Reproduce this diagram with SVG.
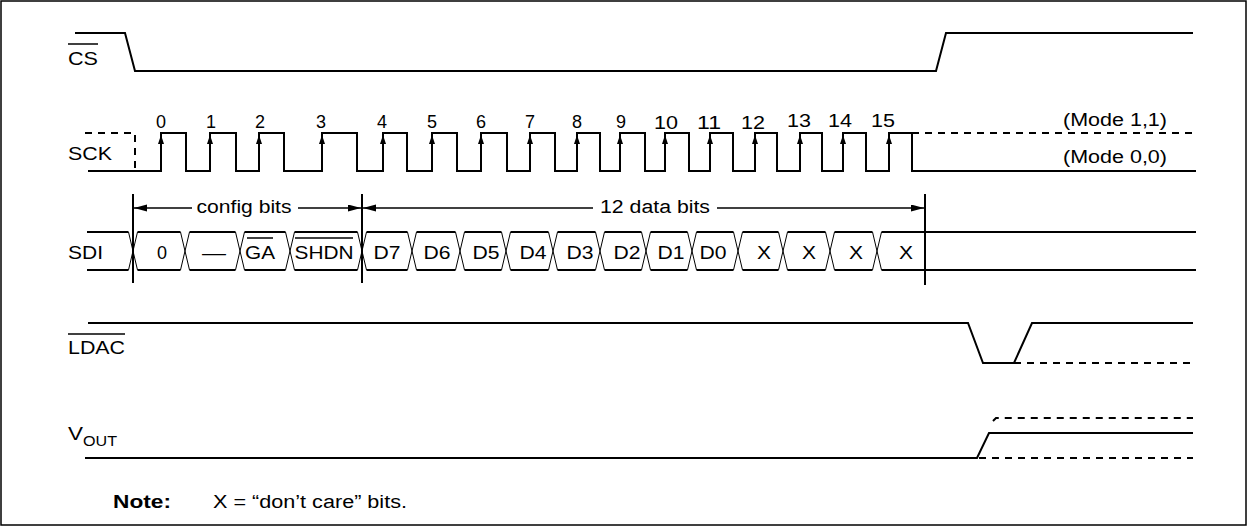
<svg xmlns="http://www.w3.org/2000/svg" width="1248" height="527" viewBox="0 0 1248 527">
<style>
.sig{fill:none;stroke:#000;stroke-width:2}
.dash{fill:none;stroke:#000;stroke-width:2;stroke-dasharray:7 6}
.thin{fill:none;stroke:#000;stroke-width:1}
.dim{fill:none;stroke:#000;stroke-width:1.5}
.ov{stroke:#000;stroke-width:1.5}
.lbl{font-family:"Liberation Sans",Arial,Helvetica,sans-serif;font-size:18px;fill:#000}
.c{text-anchor:middle}
.b{font-weight:bold}
</style>
<defs>
<marker id="ah" markerUnits="userSpaceOnUse" markerWidth="14" markerHeight="8" refX="13" refY="3.5" orient="auto">
<path d="M0,0 L13,3.5 L0,7 Z" fill="#000"/>
</marker>
<path id="ca" d="M0,0 L-3,9 L3,9 Z" fill="#000"/>
</defs>
<rect x="1" y="1" width="1245" height="524" fill="#fff" stroke="#000" stroke-width="1.5"/>

<g id="cs">
<path class="sig" d="M75,33 H125 L135,71 H936 L946,33 H1193"/>
<text class="lbl" x="68" y="65" textLength="30" lengthAdjust="spacingAndGlyphs">CS</text>
<line class="ov" x1="68" y1="44" x2="98" y2="44"/>
</g>

<g id="sck">
<path class="dash" d="M85,133 H135 V171"/>
<path class="sig" d="M88,171 H161 V133 H186 V171 H210 V133 H236 V171 H259 V133 H284 V171 H322 V133 H357 V171 H383 V133 H407 V171 H432 V133 H457 V171 H481 V133 H507 V171 H530 V133 H555 V171 H577 V133 H600 V171 H620 V133 H645 V171 H665 V133 H689 V171 H710 V133 H733 V171 H755 V133 H777 V171 H800 V133 H822 V171 H843 V133 H866 V171 H889 V133 H912 V171 H1196"/>
<path class="dash" d="M912,133 H1196"/>
<use href="#ca" x="161" y="135"/><use href="#ca" x="210" y="135"/><use href="#ca" x="259" y="135"/><use href="#ca" x="322" y="135"/>
<use href="#ca" x="383" y="135"/><use href="#ca" x="432" y="135"/><use href="#ca" x="481" y="135"/><use href="#ca" x="530" y="135"/>
<use href="#ca" x="577" y="135"/><use href="#ca" x="620" y="135"/><use href="#ca" x="665" y="135"/><use href="#ca" x="710" y="135"/>
<use href="#ca" x="755" y="135"/><use href="#ca" x="800" y="135"/><use href="#ca" x="843" y="135"/><use href="#ca" x="889" y="135"/>
<text class="lbl" x="68" y="160" textLength="44" lengthAdjust="spacingAndGlyphs">SCK</text>
<g class="lbl c">
<text x="161" y="128">0</text><text x="211" y="128">1</text><text x="260" y="128">2</text><text x="321" y="128">3</text>
<text x="382" y="128">4</text><text x="432" y="128">5</text><text x="481" y="128">6</text><text x="530" y="128">7</text>
<text x="577" y="128">8</text><text x="621" y="128">9</text>
<text x="666" y="128.5" textLength="24" lengthAdjust="spacingAndGlyphs">10</text>
<text x="709" y="128.5" textLength="24" lengthAdjust="spacingAndGlyphs">11</text>
<text x="753" y="129" textLength="24" lengthAdjust="spacingAndGlyphs">12</text>
<text x="799" y="126.5" textLength="24" lengthAdjust="spacingAndGlyphs">13</text>
<text x="840" y="126.5" textLength="24" lengthAdjust="spacingAndGlyphs">14</text>
<text x="883" y="126.5" textLength="24" lengthAdjust="spacingAndGlyphs">15</text>
</g>
<text class="lbl" x="1063" y="126" textLength="104" lengthAdjust="spacingAndGlyphs">(Mode 1,1)</text>
<text class="lbl" x="1063" y="163" textLength="104" lengthAdjust="spacingAndGlyphs">(Mode 0,0)</text>
</g>

<g id="sdi">
<path class="sig" d="M87,232H128.5M137.5,232H180.5M189.5,232H235.5M244.5,232H285.5M294.5,232H357.5M366.5,232H407.5M416.5,232H455.5M464.5,232H501.5M510.5,232H548.5M557.5,232H595.5M604.5,232H641.5M650.5,232H687.5M696.5,232H733.5M742.5,232H778.5M787.5,232H825.5M834.5,232H872.5M881.5,232H1196"/>
<path class="sig" d="M87,270H128.5M137.5,270H180.5M189.5,270H235.5M244.5,270H285.5M294.5,270H357.5M366.5,270H407.5M416.5,270H455.5M464.5,270H501.5M510.5,270H548.5M557.5,270H595.5M604.5,270H641.5M650.5,270H687.5M696.5,270H733.5M742.5,270H778.5M787.5,270H825.5M834.5,270H872.5M881.5,270H1196"/>
<path class="thin" d="M128.5,232L137.5,270M128.5,270L137.5,232M180.5,232L189.5,270M180.5,270L189.5,232M235.5,232L244.5,270M235.5,270L244.5,232M285.5,232L294.5,270M285.5,270L294.5,232M357.5,232L366.5,270M357.5,270L366.5,232M407.5,232L416.5,270M407.5,270L416.5,232M455.5,232L464.5,270M455.5,270L464.5,232M501.5,232L510.5,270M501.5,270L510.5,232M548.5,232L557.5,270M548.5,270L557.5,232M595.5,232L604.5,270M595.5,270L604.5,232M641.5,232L650.5,270M641.5,270L650.5,232M687.5,232L696.5,270M687.5,270L696.5,232M733.5,232L742.5,270M733.5,270L742.5,232M778.5,232L787.5,270M778.5,270L787.5,232M825.5,232L834.5,270M825.5,270L834.5,232M872.5,232L881.5,270M872.5,270L881.5,232"/>
<text class="lbl" x="68" y="259" textLength="35" lengthAdjust="spacingAndGlyphs">SDI</text>
<g class="lbl c">
<text x="162" y="259" textLength="12">0</text>
<text x="214" y="259" textLength="24" lengthAdjust="spacingAndGlyphs">—</text>
<text x="260" y="259" textLength="30" lengthAdjust="spacingAndGlyphs">GA</text>
<text x="324" y="259" textLength="59" lengthAdjust="spacingAndGlyphs">SHDN</text>
<text x="387" y="259" textLength="27" lengthAdjust="spacingAndGlyphs">D7</text>
<text x="437" y="259" textLength="27" lengthAdjust="spacingAndGlyphs">D6</text>
<text x="486" y="259" textLength="27" lengthAdjust="spacingAndGlyphs">D5</text>
<text x="533" y="259" textLength="27" lengthAdjust="spacingAndGlyphs">D4</text>
<text x="580" y="259" textLength="27" lengthAdjust="spacingAndGlyphs">D3</text>
<text x="627" y="259" textLength="27" lengthAdjust="spacingAndGlyphs">D2</text>
<text x="671" y="259" textLength="27" lengthAdjust="spacingAndGlyphs">D1</text>
<text x="713" y="259" textLength="27" lengthAdjust="spacingAndGlyphs">D0</text>
<text x="764" y="259" textLength="14" lengthAdjust="spacingAndGlyphs">X</text>
<text x="809" y="259" textLength="14" lengthAdjust="spacingAndGlyphs">X</text>
<text x="856" y="259" textLength="14" lengthAdjust="spacingAndGlyphs">X</text>
<text x="906" y="259" textLength="14" lengthAdjust="spacingAndGlyphs">X</text>
</g>
<line class="ov" x1="247" y1="238" x2="273" y2="238"/>
<line class="ov" x1="295" y1="238" x2="353" y2="238"/>
</g>

<g id="ldac">
<path class="sig" d="M88,323 H968 L983,363 H1014 L1032,323 H1193"/>
<path class="dash" d="M1014,363 H1196"/>
<text class="lbl" x="68" y="354" textLength="57" lengthAdjust="spacingAndGlyphs">LDAC</text>
<line class="ov" x1="68" y1="334" x2="125" y2="334"/>
</g>

<g id="vout">
<path class="sig" d="M85,458 H977 L989,433 H1193"/>
<path class="dash" d="M993,421 L996,418 H1193"/>
<path class="dash" d="M979,458 H1193"/>
<text class="lbl" x="68" y="440" textLength="15" lengthAdjust="spacingAndGlyphs">V</text>
<text class="lbl" x="83" y="446" style="font-size:14px" textLength="34" lengthAdjust="spacingAndGlyphs">OUT</text>
</g>

<g id="connectors">
<line class="sig" x1="133" y1="194" x2="133" y2="283"/>
<line class="sig" x1="362" y1="194" x2="362" y2="283"/>
<line class="sig" x1="925" y1="194" x2="925" y2="285"/>
<line class="dim" x1="192" y1="208" x2="134" y2="208" marker-end="url(#ah)"/>
<line class="dim" x1="298" y1="208" x2="361" y2="208" marker-end="url(#ah)"/>
<line class="dim" x1="593" y1="208" x2="363" y2="208" marker-end="url(#ah)"/>
<line class="dim" x1="717" y1="208" x2="924" y2="208" marker-end="url(#ah)"/>
<text class="lbl c" x="244" y="213" textLength="95" lengthAdjust="spacingAndGlyphs">config bits</text>
<text class="lbl c" x="655" y="213" textLength="110" lengthAdjust="spacingAndGlyphs">12 data bits</text>
</g>

<g id="note">
<text class="lbl b" x="113" y="508" textLength="58" lengthAdjust="spacingAndGlyphs">Note:</text>
<text class="lbl" x="213" y="508" textLength="194" lengthAdjust="spacingAndGlyphs">X = “don’t care” bits.</text>
</g>
</svg>
